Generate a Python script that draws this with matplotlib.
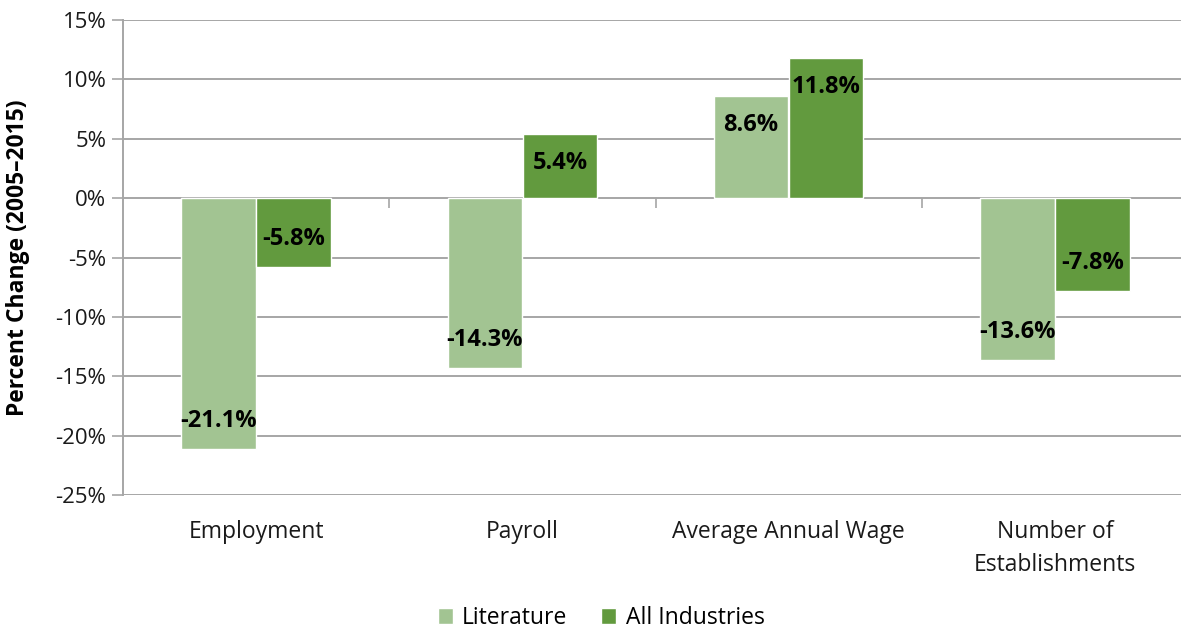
import matplotlib
matplotlib.use("Agg")
import matplotlib.pyplot as plt
import numpy as np

categories = ["Employment", "Payroll", "Average Annual Wage", "Number of\nEstablishments"]
literature = [-21.1, -14.3, 8.6, -13.6]
all_industries = [-5.8, 5.4, 11.8, -7.8]
series_names = ["Literature", "All Industries"]
colors = ["#A2C492", "#629A3E"]
yticks = [15, 10, 5, 0, -5, -10, -15, -20, -25]

plt.rcParams['font.family'] = ['Open Sans', 'DejaVu Sans']

fig = plt.figure(figsize=(11.81, 6.31), dpi=100)
ax = fig.add_axes([123/1181, 1-495/631, (1188-123)/1181, 475/631])

x = np.arange(len(categories))
w = 0.28
off = 0.141
grid_c = "#A6A6A6"

for vals, sign, col, name in [(literature, -1, colors[0], series_names[0]),
                              (all_industries, 1, colors[1], series_names[1])]:
    bars = ax.bar(x + sign*off, vals, width=w, color=col, edgecolor="white",
                  linewidth=1.0, label=name, zorder=3)
    for b, v in zip(bars, vals):
        ax.annotate(f"{v:.1f}%", (b.get_x() + b.get_width()/2, v),
                    xytext=(0, -29 if v > 0 else 28), textcoords="offset pixels",
                    ha="center", va="center", fontsize=17, fontweight="bold",
                    color="black", zorder=4)

ax.set_xlim(-0.5, len(categories) - 0.5)
ax.set_ylim(-25, 15)
ax.set_yticks(yticks)
ax.set_yticklabels([f"{t}%" for t in yticks], fontsize=16, color="#1a1a1a")
ax.yaxis.grid(True, color=grid_c, linewidth=1.4, zorder=0)
ax.set_axisbelow(True)
ax.tick_params(axis="y", length=8, width=1.2, color=grid_c, pad=4)

ax.set_xticks(x)
ax.set_xticklabels(categories, fontsize=16.5, color="#1a1a1a", linespacing=1.5)
ax.tick_params(axis="x", length=0, pad=18)

for s in ["top", "right", "bottom"]:
    ax.spines[s].set_visible(False)
ax.spines["left"].set_color(grid_c)
ax.spines["left"].set_linewidth(1.4)

# category boundary ticks on the zero line
sec = ax.secondary_xaxis(0, transform=ax.transData)
sec.set_xticks(x[:-1] + 0.5)
sec.set_xticklabels([])
sec.tick_params(axis="x", length=7, width=1.2, color=grid_c, direction="out")
sec.spines["bottom"].set_visible(False)

ax.set_ylabel("Percent Change (2005\u20132015)", fontsize=16.5, fontweight="bold")
ax.yaxis.set_label_coords(-0.0873, 0.5)

handles, labels = ax.get_legend_handles_labels()
fig.legend(handles, labels, loc="center", bbox_to_anchor=(601/1181, 1-618/631),
           ncol=2, frameon=False, fontsize=16.5, handlelength=0.65, handleheight=0.65,
           handletextpad=0.4, columnspacing=1.5)

fig.savefig("out.png", dpi=100)
